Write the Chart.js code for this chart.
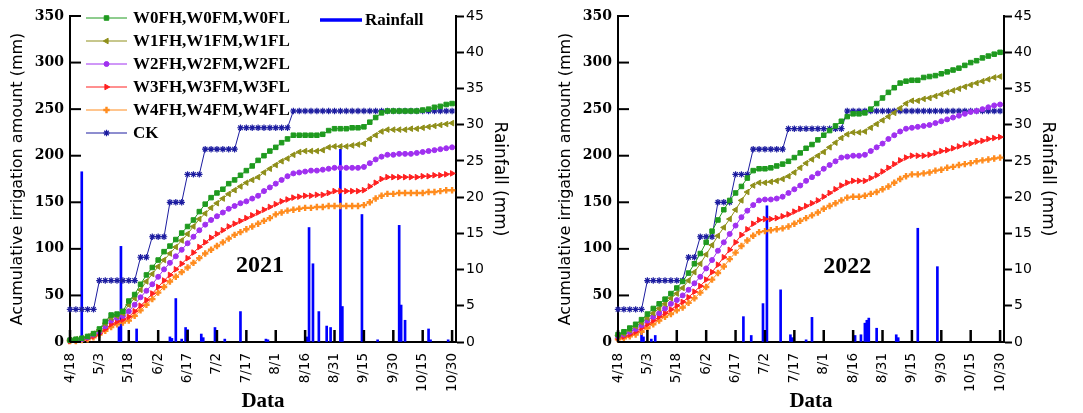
<!DOCTYPE html>
<html>
<head>
<meta charset="utf-8">
<script src="https://cdn.jsdelivr.net/npm/chart.js@4.4.1/dist/chart.umd.min.js"></script>
<style>
  html, body { margin: 0; padding: 0; background: #fff; overflow: hidden; }
  .panel { position: absolute; top: 0; width: 535px; height: 413px; }
  #p2021 { left: 0; }
  #p2022 { left: 548px; }
</style>
</head>
<body>
<div class="panel" id="p2021"><canvas id="chart2021"></canvas></div>
<div class="panel" id="p2022"><canvas id="chart2022"></canvas></div>
<script>
// x values are days counted from 4/18 (day 0) to 10/30 (day 195)
const xTickLabels = ['4/18','5/3','5/18','6/2','6/17','7/2','7/17','8/1','8/16','8/31','9/15','9/30','10/15','10/30'];
const sampleDays = [0,3,6,9,12,15,18,21,24,27,30,33,36,39,42,45,48,51,54,57,60,63,66,69,72,75,78,81,84,87,90,93,96,99,
  102,105,108,111,114,117,120,123,126,129,132,135,138,141,144,147,150,153,156,159,162,165,168,171,174,177,180,183,186,189,192,195];

const seriesNames = ['W0FH,W0FM,W0FL','W1FH,W1FM,W1FL','W2FH,W2FM,W2FL','W3FH,W3FM,W3FL','W4FH,W4FM,W4FL','CK'];

// 2021 accumulated irrigation (mm)
const w0_2021 = [2,3,4,6,9,14,22,29,30,33,44,51,62,72,80,88,97,103,110,117,124,131,140,148,155,160,164,170,174,179,
  184,189,195,200,205,209,214,218,222,222,222,222,222,223,227,229,229,229,230,230,231,236,241,246,248,248,248,248,248,248,249,250,252,253,255,256];
const w1_2021 = [2,3,4,6,9,13,20,26,28,31,40,47,56,65,73,81,88,95,102,109,116,124,132,138,144,149,154,159,163,167,
  171,174,177,182,186,190,194,197,201,204,205,205,205,206,209,210,210,210,211,212,213,218,222,226,228,228,228,228,229,229,230,231,232,233,234,235];
const w2_2021 = [2,2,3,5,8,11,17,23,26,28,33,40,48,55,62,70,78,85,92,99,106,113,120,126,131,135,139,143,146,149,
  151,154,157,162,166,170,174,178,181,182,183,184,184,185,186,187,187,187,187,187,188,192,196,199,201,201,202,202,202,203,204,205,206,207,208,209];
const w3_2021 = [1,2,3,4,6,9,14,19,22,24,27,33,39,45,52,59,66,72,78,84,90,96,102,107,112,116,120,124,127,130,
  133,136,139,142,145,148,151,153,155,156,157,157,158,158,160,162,162,162,162,162,163,167,171,175,177,177,177,177,177,177,178,178,179,179,180,181];
const w4_2021 = [1,1,2,3,5,8,12,16,19,21,23,28,34,40,46,53,59,65,70,75,80,85,90,95,99,103,107,111,115,118,
  121,124,127,130,133,137,139,141,142,143,144,144,145,145,146,146,146,146,146,146,147,150,154,157,159,159,160,160,160,160,160,161,161,162,163,163];
const ck_2021 = [35,35,35,35,35,66,66,66,66,66,66,66,91,91,113,113,113,150,150,150,180,180,180,207,207,207,207,207,207,
  230,230,230,230,230,230,230,230,230,248,248,248,248,248,248,248,248,248,248,248,248,248,248,248,248,248,248,248,248,248,248,248,248,248,248,248,248];

// 2022 accumulated irrigation (mm)
const w0_2022 = [8,11,15,19,24,30,36,41,46,52,58,65,74,84,95,107,119,131,142,152,160,167,176,184,186,186,187,189,191,194,
  198,203,208,212,217,222,227,232,237,242,245,245,246,250,256,262,268,273,278,280,281,281,284,285,286,288,290,292,294,297,300,302,305,307,309,311];
const w1_2022 = [7,9,13,17,21,26,31,36,41,47,52,58,66,75,84,94,104,114,123,132,142,152,161,168,171,171,172,173,175,178,
  182,187,192,196,200,204,209,214,219,223,225,225,226,230,234,238,242,246,251,256,259,259,261,262,264,266,268,270,272,274,276,278,280,282,284,285];
const w2_2022 = [6,8,11,14,18,23,27,31,36,41,45,50,56,63,70,79,88,98,107,116,125,134,141,147,152,153,153,154,156,160,
  164,168,173,177,181,186,190,194,198,199,200,200,201,205,209,213,218,222,226,229,230,231,232,233,235,237,239,241,243,245,247,248,250,252,254,255];
const w3_2022 = [5,6,8,11,15,19,23,27,31,35,39,43,48,54,60,67,75,83,91,99,107,115,121,127,131,132,132,133,135,137,
  140,143,146,149,152,156,160,164,168,171,173,173,173,176,179,183,187,191,195,198,200,200,200,201,203,205,206,208,210,212,213,215,216,218,219,220];
const w4_2022 = [3,4,6,8,11,15,19,23,27,30,34,37,42,47,53,59,67,74,81,89,96,103,109,114,118,119,120,121,122,124,
  127,130,133,136,139,143,146,149,152,155,156,156,157,159,161,164,167,171,175,178,180,180,181,182,184,185,187,188,190,191,192,194,195,196,197,198];
const ck_2022 = [35,35,35,35,35,66,66,66,66,66,66,66,91,91,113,113,113,150,150,150,180,180,180,207,207,207,207,207,207,
  229,229,229,229,229,229,229,229,229,229,248,248,248,248,248,248,248,248,248,248,248,248,248,248,248,248,248,248,248,248,248,248,248,248,248,248,248];

// daily rainfall (mm), day index from 4/18
const rainDays2021 = [6,25,26,34,51,52,54,57,59,60,67,68,74,79,87,100,101,121,122,124,127,131,133,138,139,149,157,168,169,171,183,184,193];
const rainMm2021 = [23.5,2.1,13.2,1.8,0.7,0.5,6.0,0.4,2.0,1.7,1.1,0.6,2.0,0.4,4.2,0.4,0.3,0.7,15.8,10.8,4.2,2.2,2.0,26.6,4.9,17.6,0.3,16.1,5.1,3.0,1.8,0.3,0.3];
const rainDays2022 = [12,13,17,19,64,68,74,76,83,88,89,96,99,121,124,126,127,128,132,142,143,153,163];
const rainMm2022 = [1.7,0.7,0.4,0.9,3.5,0.9,5.3,18.8,7.2,1.0,0.6,0.3,3.4,0.9,1.0,2.6,3.0,3.3,1.9,1.0,0.6,15.7,10.4];

const seriesStyles = [
  { color: '#1f9a1f', pointStyle: 'rect', radius: 3.2, rotation: 0, bw: 1 },
  { color: '#8f8f1a', pointStyle: 'triangle', radius: 3.2, rotation: 270, bw: 1 },
  { color: '#a030f0', pointStyle: 'circle', radius: 2.5, rotation: 0, bw: 1 },
  { color: '#ff2020', pointStyle: 'triangle', radius: 3.2, rotation: 90, bw: 1 },
  { color: '#ff8c1f', pointStyle: 'cross', radius: 3.2, rotation: 0, bw: 2.4 },
  { color: '#1c1ca0', pointStyle: 'star', radius: 3.2, rotation: 0, bw: 1.2 }
];

Chart.defaults.font.family = 'DejaVu Sans';
Chart.defaults.color = '#000';

// inward tick marks on the left and bottom axes
const innerTicks = {
  id: 'innerTicks',
  afterDatasetsDraw(chart) {
    const { ctx, chartArea, scales } = chart;
    ctx.save();
    ctx.strokeStyle = '#000';
    ctx.lineWidth = 2;
    scales.y.ticks.forEach((t, i) => {
      const py = scales.y.getPixelForTick(i);
      ctx.beginPath();
      ctx.moveTo(chartArea.left, py);
      ctx.lineTo(chartArea.left + 11, py);
      ctx.stroke();
    });
    ctx.lineWidth = 2.5;
    scales.x.ticks.forEach((t, i) => {
      const px = scales.x.getPixelForTick(i);
      ctx.beginPath();
      ctx.moveTo(px, chartArea.bottom);
      ctx.lineTo(px, chartArea.bottom - 12);
      ctx.stroke();
    });
    ctx.restore();
  }
};

// year text inside the plot
const yearLabel = {
  id: 'yearLabel',
  afterDatasetsDraw(chart, args, opts) {
    const { ctx, scales } = chart;
    ctx.save();
    ctx.font = 'bold 24px "Liberation Serif"';
    ctx.fillStyle = '#000';
    ctx.textAlign = 'center';
    ctx.textBaseline = 'middle';
    ctx.fillText(opts.text, scales.x.getPixelForValue(opts.day), scales.y.getPixelForValue(opts.value));
    ctx.restore();
  }
};

// legend drawn inside the plot area
const innerLegend = {
  id: 'innerLegend',
  afterDatasetsDraw(chart, args, opts) {
    if (!opts.show) return;
    const { ctx, chartArea } = chart;
    const l = chartArea.left, t = chartArea.top;
    ctx.save();
    ctx.font = 'bold 17px "Liberation Serif"';
    ctx.textBaseline = 'middle';
    ctx.textAlign = 'left';
    chart.data.datasets.forEach((ds, i) => {
      if (ds.type === 'bar') return;
      const y = t + 2 + i * 23;
      ctx.strokeStyle = ds.borderColor;
      ctx.lineWidth = 1;
      ctx.beginPath();
      ctx.moveTo(l + 16, y);
      ctx.lineTo(l + 57, y);
      ctx.stroke();
      ctx.fillStyle = ds.borderColor;
      ctx.strokeStyle = ds.borderColor;
      ctx.lineWidth = ds.pointBorderWidth;
      Chart.helpers.drawPoint(ctx, {
        pointStyle: ds.pointStyle, rotation: ds.pointRotation,
        radius: ds.pointRadius, borderWidth: ds.pointBorderWidth
      }, l + 36.5, y);
      ctx.fillStyle = '#000';
      ctx.fillText(ds.label, l + 63, y + 1);
    });
    const rain = chart.data.datasets.find(d => d.type === 'bar');
    ctx.strokeStyle = rain.backgroundColor;
    ctx.lineWidth = 3.5;
    ctx.beginPath();
    ctx.moveTo(l + 250, t + 4);
    ctx.lineTo(l + 292, t + 4);
    ctx.stroke();
    ctx.fillStyle = '#000';
    ctx.fillText(rain.label, l + 295, t + 5);
    ctx.restore();
  }
};

function makeChart(canvasId, year, series, rainDays, rainMm, showLegend, yearDay, yearValue) {
  const datasets = series.map((vals, i) => {
    const st = seriesStyles[i];
    return {
      type: 'line',
      label: seriesNames[i],
      data: sampleDays.map((d, k) => ({ x: d, y: vals[k] })),
      borderColor: st.color,
      backgroundColor: st.color,
      borderWidth: 1,
      pointStyle: st.pointStyle,
      pointRotation: st.rotation,
      pointRadius: st.radius,
      pointBorderWidth: st.bw,
      pointBackgroundColor: st.color,
      pointBorderColor: st.color,
      tension: 0,
      yAxisID: 'y',
      clip: false,
      order: 1
    };
  });
  datasets.push({
    type: 'bar',
    label: 'Rainfall',
    data: rainDays.map((d, k) => ({ x: d, y: rainMm[k] })),
    backgroundColor: '#0000ff',
    barThickness: 2,
    yAxisID: 'y1',
    order: 5
  });

  return new Chart(document.getElementById(canvasId), {
    type: 'line',
    data: { datasets },
    plugins: [innerTicks, yearLabel, innerLegend],
    options: {
      responsive: true,
      maintainAspectRatio: false,
      animation: false,
      layout: { padding: { top: 16, left: 0, right: 0, bottom: 0 } },
      plugins: {
        legend: { display: false },
        tooltip: { enabled: false },
        yearLabel: { text: year, day: yearDay, value: yearValue },
        innerLegend: { show: showLegend }
      },
      scales: {
        x: {
          type: 'linear',
          min: 0,
          max: 197,
          offset: false,
          afterFit: s => { s.height = 71; },
          border: { display: true, color: '#000', width: 2 },
          grid: { display: true, drawOnChartArea: false, drawTicks: false },
          ticks: {
            stepSize: 15,
            includeBounds: false,
            autoSkip: false,
            minRotation: 90,
            maxRotation: 90,
            padding: 11,
            font: { size: 13.5 },
            callback: v => xTickLabels[Math.round(v / 15)]
          },
          title: {
            display: true,
            text: 'Data',
            font: { family: 'Liberation Serif', size: 21, weight: 'bold', lineHeight: 1 },
            padding: { top: 0, bottom: 1 }
          }
        },
        y: {
          position: 'left',
          min: 0,
          max: 350,
          afterFit: s => { s.width = 70; },
          border: { display: true, color: '#000', width: 2 },
          grid: { display: true, drawOnChartArea: false, drawTicks: false },
          ticks: {
            stepSize: 50,
            padding: 6,
            font: { family: 'DejaVu Serif', size: 14, weight: 'bold' }
          },
          title: {
            display: true,
            text: 'Acumulative irrigation amount (mm)',
            font: { size: 16 },
            padding: { top: 8, bottom: 0 }
          }
        },
        y1: {
          position: 'right',
          min: 0,
          max: 45,
          afterFit: s => { s.width = 79; },
          border: { display: true, color: '#000', width: 2 },
          grid: { display: true, drawOnChartArea: false, drawTicks: true, tickLength: 8, tickColor: '#000', tickWidth: 2 },
          ticks: {
            stepSize: 5,
            padding: 2,
            font: { size: 14 }
          },
          title: {
            display: true,
            text: 'Rainfall (mm)',
            font: { size: 17 },
            padding: { top: 25, bottom: 0 }
          }
        }
      }
    }
  });
}

makeChart('chart2021', '2021', [w0_2021, w1_2021, w2_2021, w3_2021, w4_2021, ck_2021], rainDays2021, rainMm2021, true, 97, 82);
makeChart('chart2022', '2022', [w0_2022, w1_2022, w2_2022, w3_2022, w4_2022, ck_2022], rainDays2022, rainMm2022, false, 117, 81);
</script>
</body>
</html>
